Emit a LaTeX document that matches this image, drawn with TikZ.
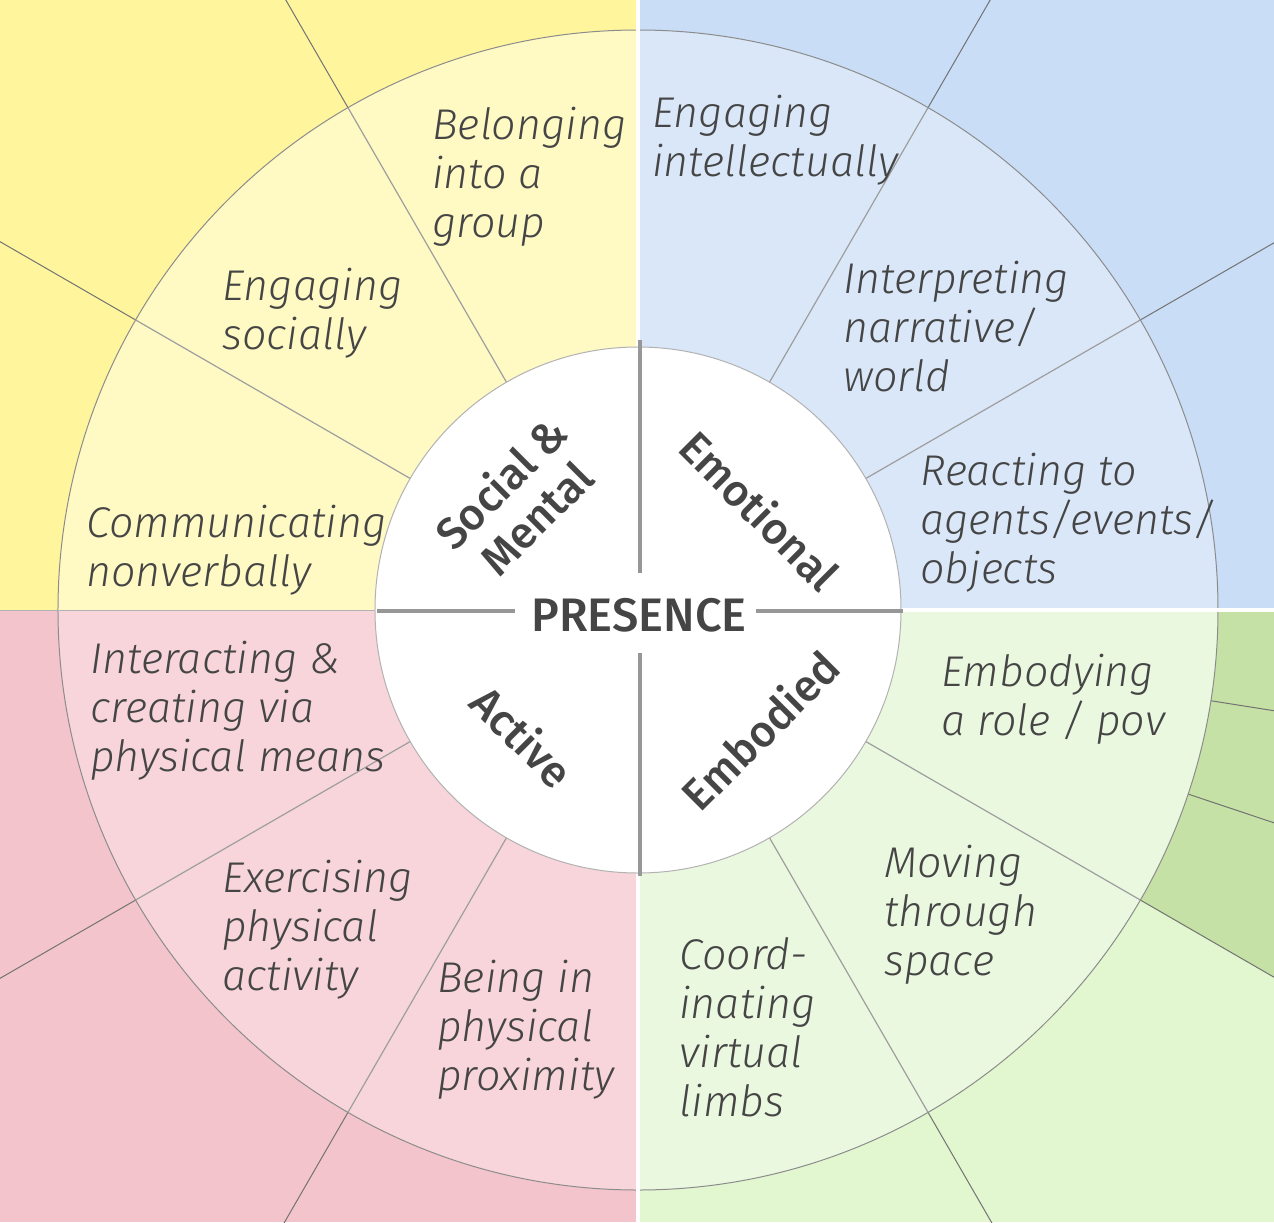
\documentclass[tikz,border=0pt]{standalone}
\usepackage{fontspec}
\newfontfamily\lblfont{Fira Sans Light Italic}
\newfontfamily\catfont{Fira Sans Medium}
\definecolor{yOut}{HTML}{FFF59D}
\definecolor{yIn}{HTML}{FFF9C4}
\definecolor{bOut}{HTML}{C9DDF6}
\definecolor{bIn}{HTML}{DAE7F8}
\definecolor{pOut}{HTML}{F4C4CC}
\definecolor{pIn}{HTML}{F7D5DA}
\definecolor{gOut}{HTML}{E2F6D0}
\definecolor{gIn}{HTML}{EBF8E0}
\definecolor{gDark}{HTML}{C5E1A5}
\definecolor{txt}{HTML}{454545}
\definecolor{crossgray}{HTML}{979797}
\tikzset{
  lbl/.style={font=\lblfont\fontsize{21.5pt}{24.5pt}\selectfont, text=txt, align=left, anchor=base west, inner sep=0pt},
  cat/.style={font=\catfont\fontsize{22pt}{25pt}\selectfont, text=txt, align=center, inner sep=0pt},
  outerline/.style={draw=black!55, line width=0.5pt},
  innerline/.style={draw=black!38, line width=0.6pt},
  crossline/.style={draw=crossgray, line width=2pt},
}
\begin{document}
\begin{tikzpicture}[x=0.5pt,y=0.5pt]
\useasboundingbox (-638,-612) rectangle (636,610);
\clip (-638,-612) rectangle (636,610);
% outer quadrant backgrounds
\fill[yOut] (-638,0) rectangle (0,610);
\fill[bOut] (0,0) rectangle (636,610);
\fill[pOut] (-638,-612) rectangle (0,0);
\fill[gOut] (0,-612) rectangle (636,0);
\fill[gDark] (0:580) -- (636,0) -- (636,-367) -- (-30:580) arc[start angle=-30,end angle=0,radius=580] -- cycle;
% ring sectors
\fill[yIn] (0,0) -- (90:580) arc[start angle=90,end angle=180,radius=580] -- cycle;
\fill[bIn] (0,0) -- (0:580) arc[start angle=0,end angle=90,radius=580] -- cycle;
\fill[pIn] (0,0) -- (180:580) arc[start angle=180,end angle=270,radius=580] -- cycle;
\fill[gIn] (0,0) -- (270:580) arc[start angle=270,end angle=360,radius=580] -- cycle;
% radial lines outside the ring
\foreach \a in {30,60,120,150,210,240,300,330,-9,-18.5}
  \draw[outerline] (\a:580) -- (\a:1300);
% radial lines in the ring
\foreach \a in {30,60,120,150,210,240,300,330}
  \draw[innerline] (\a:263) -- (\a:580);
% ring outline
\draw[draw=black!45, line width=0.5pt] (0,0) circle[radius=580];
% quadrant separators
\draw[white, line width=1.8pt] (0,-612) -- (0,610);
\draw[white, line width=1.8pt] (0,0) -- (636,0);
\draw[draw=black!30, line width=0.4pt] (-638,0) -- (0,0);
% inner circle
\draw[fill=white, draw=black!30, line width=0.5pt] (0,0) circle[radius=263];
% cross lines
\coordinate (vt1) at (2,270); \coordinate (vt2) at (2,37);
\coordinate (vb1) at (2,-43); \coordinate (vb2) at (2,-266);
\coordinate (hl1) at (-261,-1); \coordinate (hl2) at (-123,-1);
\coordinate (hr1) at (118,-1); \coordinate (hr2) at (265,-1);
\draw[crossline] (vt1) -- (vt2);
\draw[crossline] (vb1) -- (vb2);
\draw[crossline] (hl1) -- (hl2);
\draw[crossline] (hr1) -- (hr2);
% center labels
\node[cat, font=\catfont\fontsize{23.5pt}{25pt}\selectfont] (presence) at (1,-5) {PRESENCE};
\node[cat, rotate=45] (social) at (-120,110) {Social \&\\Mental};
\node[cat, rotate=-45] (emotional) at (122,100) {Emotional};
\node[cat, rotate=-45] (active) at (-115,-126) {Active};
\node[cat, rotate=45] (embodied) at (122,-120) {Embodied};
% ring labels (anchored at the baseline of the last line)
\node[lbl] (belong) at (-206,373) {Belonging\\into a\\group};
\node[lbl] (engsoc) at (-416,261) {Engaging\\socially};
\node[lbl] (comm) at (-552,24) {Communicating\\nonverbally};
\node[lbl] (engint) at (14,434) {Engaging\\intellectually};
\node[lbl] (interp) at (205,219) {Interpreting\\narrative/\\world};
\node[lbl] (react) at (282,27) {Reacting to\\agents/events/\\objects};
\node[lbl] (interact) at (-548,-161) {Interacting \&\\creating via\\physical means};
\node[lbl] (exerc) at (-416,-380) {Exercising\\physical\\activity};
\node[lbl] (being) at (-201,-480) {Being in\\physical\\proximity};
\node[lbl] (embody) at (303,-125) {Embodying\\a role / pov};
\node[lbl] (moving) at (246,-365) {Moving\\through\\space};
\node[lbl] (coord) at (41,-506) {Coord-\\inating\\virtual\\limbs};
\end{tikzpicture}
\end{document}
